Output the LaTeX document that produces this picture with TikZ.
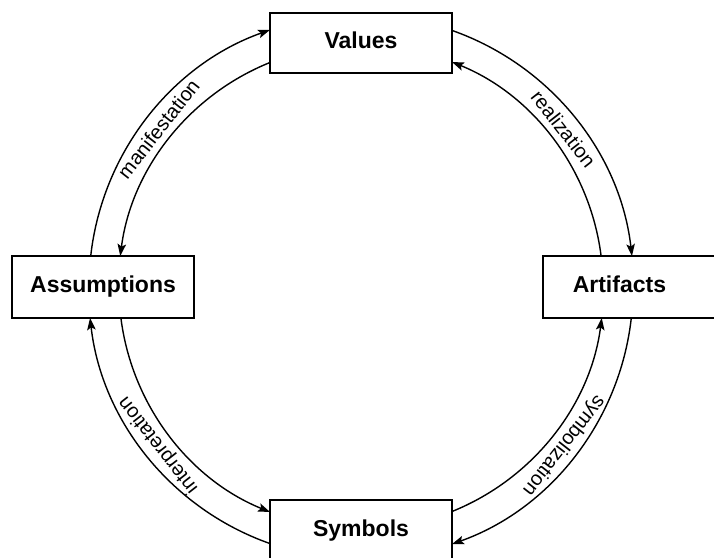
\documentclass[tikz,border=0pt]{standalone}
\usepackage{fontspec}
\setmainfont{Liberation Sans}
\usetikzlibrary{arrows.meta}
\begin{document}
\begin{tikzpicture}[x=1pt,y=1pt,
  box/.style={draw, line width=1.5pt, inner sep=0pt, text height=16.5pt, text depth=4.8pt, font=\fontsize{23}{27}\selectfont\bfseries},
  arcline/.style={line width=1.4pt, -{Stealth[length=12pt,width=8.5pt,inset=2.5pt]}},
  lbl/.style={font=\fontsize{20}{24}\selectfont, inner sep=0pt}]
\useasboundingbox (0,0) rectangle (714,557);
\coordinate (O) at (361,270);
\node[box, minimum width=182pt, minimum height=60pt] (Values) at (361,514) {Values};
\node[box, minimum width=182pt, minimum height=62pt] (Assumptions) at (103,270) {Assumptions};
\node[box, minimum height=62pt, minimum width=190pt, anchor=west] (Artifacts) at (542,270) {\hspace*{30pt}Artifacts\hspace*{67pt}};
\node[box, minimum width=182pt, minimum height=62pt] (Symbols) at (361,26) {Symbols};
% top left
\draw[arcline] ([xshift=-12.2pt]Assumptions.north) arc[start angle=173.46, end angle=109.55, radius=272pt];
\draw[arcline] ([yshift=-19.8pt]Values.west) arc[start angle=112.09, end angle=172.64, radius=242pt];
% top right
\draw[arcline] ([yshift=12.3pt]Values.east) arc[start angle=70.45, end angle=6.54, radius=272pt];
\draw[arcline] ([xshift=59pt]Artifacts.north west) arc[start angle=7.36, end angle=67.91, radius=242pt];
% bottom left
\draw[arcline] ([yshift=-12.3pt]Symbols.west) arc[start angle=250.45, end angle=186.54, radius=272pt];
\draw[arcline] ([xshift=18pt]Assumptions.south) arc[start angle=187.36, end angle=247.91, radius=242pt];
% bottom right
\draw[arcline] ([yshift=19.8pt]Symbols.east) arc[start angle=292.09, end angle=352.64, radius=242pt];
\draw[arcline] ([xshift=89.2pt]Artifacts.south west) arc[start angle=353.46, end angle=289.55, radius=272pt];
% labels
\node[lbl, rotate=52] (lman) at ([shift={(142:257)}]O) {manifestation};
\node[lbl, rotate=-52] (lrea) at ([shift={(38:257)}]O) {realization};
\node[lbl, rotate=128] (lint) at ([shift={(218:257)}]O) {interpretation};
\node[lbl, rotate=-128] (lsym) at ([shift={(322:257)}]O) {symbolization};
\end{tikzpicture}
\end{document}
